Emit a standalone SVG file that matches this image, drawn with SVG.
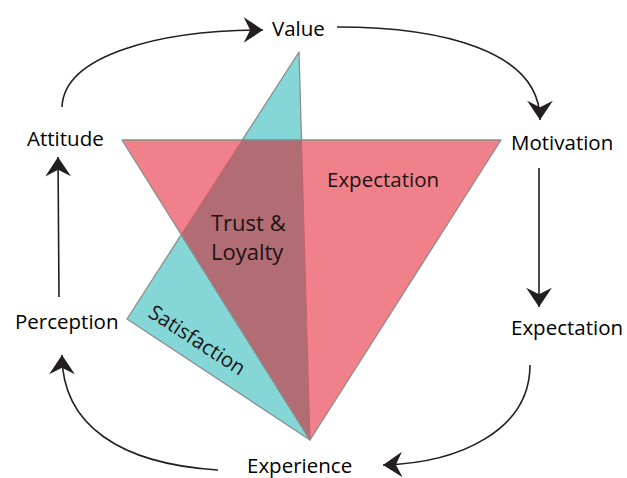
<svg xmlns="http://www.w3.org/2000/svg" width="627" height="478" viewBox="0 0 627 478">
  <defs>
    <marker id="head" markerUnits="userSpaceOnUse" markerWidth="30" markerHeight="30" viewBox="-20 -14 22 28" refX="0" refY="0" orient="auto">
      <path d="M0,0 L-18,-12 L-12,0 L-18,12 Z" fill="#231f20"/>
    </marker>
  </defs>
  <style>
    .lbl { font-family: "Open Sans", "Liberation Sans", sans-serif; font-size: 20.5px; fill: #000; }
    .inner { font-family: "Open Sans", "Liberation Sans", sans-serif; font-size: 20.5px; fill: #1a1415; }
    .big { font-size: 22px; }
    .conn { fill: none; stroke: #231f20; stroke-width: 1.6; marker-end: url(#head); }
    .tri { stroke: #8c8c8c; stroke-width: 1.3; stroke-linejoin: round; }
    .edge { fill: none; stroke: #8c8c8c; stroke-width: 1.3; }
    .seam { fill: none; stroke: #c9606b; stroke-width: 1; }
  </style>

  <!-- overlapping triangles -->
  <g id="satisfaction">
    <polygon class="tri" points="299,52 127,319 310,440" fill="#85d7d7"/>
  </g>
  <g id="expectation-area">
    <polygon class="tri" points="122,140 501,140 310,440" fill="#f0808a"/>
  </g>
  <g id="trust-loyalty">
    <polygon points="242.3,140 301.5,140 310,440 181.3,234.7" fill="#b26c74"/>
    <line class="seam" x1="242.3" y1="140" x2="181.3" y2="234.7"/>
    <line class="seam" x1="301.5" y1="140" x2="310" y2="440"/>
    <line class="edge" x1="181.3" y1="234.7" x2="310" y2="440"/>
    <line class="edge" x1="242.3" y1="140" x2="301.5" y2="140"/>
  </g>
  <text class="inner" x="327" y="187">Expectation</text>
  <text class="inner big" x="211" y="231">Trust &amp;</text>
  <text class="inner big" x="211" y="260">Loyalty</text>
  <text class="inner" transform="translate(147,316) rotate(33)">Satisfaction</text>

  <!-- cycle labels -->
  <g id="value"><text class="lbl" x="272" y="36">Value</text></g>
  <g id="motivation"><text class="lbl" x="511" y="150">Motivation</text></g>
  <g id="expectation"><text class="lbl" x="511" y="335">Expectation</text></g>
  <g id="experience"><text class="lbl" x="247" y="473">Experience</text></g>
  <g id="perception"><text class="lbl" x="15" y="329">Perception</text></g>
  <g id="attitude"><text class="lbl" x="27" y="146">Attitude</text></g>

  <!-- connectors -->
  <g id="connectors">
    <path class="conn" d="M62,107 C64,55 160,30 263,30"/>
    <path class="conn" d="M337,27 C440,27 540,50 540,120"/>
    <path class="conn" d="M539,168 L539,307"/>
    <path class="conn" d="M530,365 C530,430 460,463 383,465"/>
    <path class="conn" d="M218,470 C120,464 62,425 62,355"/>
    <path class="conn" d="M59,297 L58,157"/>
  </g>
</svg>
